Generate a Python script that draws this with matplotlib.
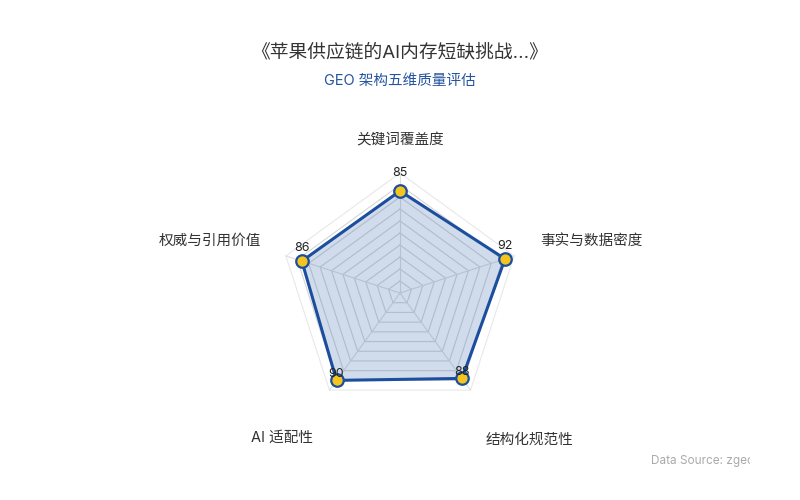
import numpy as np
import matplotlib
matplotlib.use('Agg')
from matplotlib import pyplot as plt
from matplotlib.transforms import Bbox

# 字体：拉丁字符用 Inter，中文回退到 Noto Sans CJK SC
plt.rcParams['font.family'] = ['Inter', 'Noto Sans CJK SC', 'DejaVu Sans']

title = '《苹果供应链的AI内存短缺挑战...》'
subtitle = 'GEO 架构五维质量评估'
source = 'Data Source: zgeo.ai'

indicators = ['关键词覆盖度', '事实与数据密度', '结构化规范性', 'AI 适配性', '权威与引用价值']
scores = [85, 92, 88, 90, 86]
max_score = 100
split_number = 10

# 画布（像素坐标）
cx, cy = 400, 293
radius = 120
fig = plt.figure(figsize=(8, 5), dpi=100)
ax = fig.add_axes([0, 0, 1, 1])
ax.set_xlim(0, 800)
ax.set_ylim(500, 0)
ax.axis('off')

n = len(indicators)
angles = np.pi / 2 - 2 * np.pi * np.arange(n) / n
dx = np.cos(angles)
dy = -np.sin(angles)

# 网格
for k in range(1, split_number + 1):
    r = radius * k / split_number
    xs = np.append(cx + r * dx, cx + r * dx[0])
    ys = np.append(cy + r * dy, cy + r * dy[0])
    col = '#e8e8e8' if k == split_number else '#d6d6d6'
    ax.plot(xs, ys, color=col, lw=0.8, zorder=1)
for i in range(n):
    ax.plot([cx, cx + radius * dx[i]], [cy, cy + radius * dy[i]], color='#dedede', lw=0.8, zorder=1)

# 数据区域
vals = np.array(scores) / max_score * radius
px = cx + vals * dx
py = cy + vals * dy
ax.fill(px, py, color='#2a5caa', alpha=0.22, lw=0, zorder=2)
ax.plot(np.append(px, px[0]), np.append(py, py[0]), color='#1c4e9e', lw=2.2, zorder=3)
ax.plot(px, py, 'o', ms=9, mfc='#f4c51f', mec='#1c4e9e', mew=1.6, zorder=4)

# 数值标签（上下偏移不同）
label_gap = [9, 5, 0, 0, 5]
for x, y, v, g in zip(px, py, scores, label_gap):
    ax.annotate(str(v), (x, y), xytext=(0, g), textcoords='offset points',
                ha='center', va='bottom', fontsize=9, color='#222222', zorder=5)

# 指标名称
label_pos = [(400, 140, 'center'), (540, 241, 'left'), (486, 440, 'left'),
             (313, 438, 'right'), (261, 241, 'right')]
for name, (x, y, ha) in zip(indicators, label_pos):
    ax.text(x, y, name, ha=ha, va='center', fontsize=10.5, color='#333333')

# 标题
ax.text(400, 53, title, ha='center', va='center', fontsize=13.5, color='#333333')
ax.text(400, 81, subtitle, ha='center', va='center', fontsize=10.5, color='#24539f')

t = ax.text(651, 461, source, ha='left', va='center', fontsize=8.5, color='#aaaaaa')
t.set_clip_box(Bbox.from_extents(0, 0, 750, 500))
t.set_clip_on(True)

fig.savefig('out.png', dpi=100, facecolor='white')
